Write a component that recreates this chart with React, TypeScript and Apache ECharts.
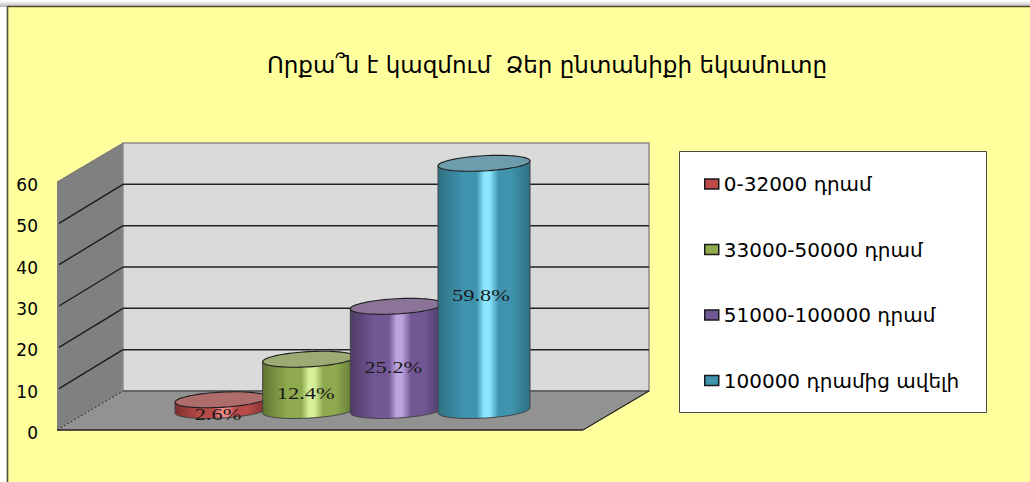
import React, { useEffect, useRef } from "react";
import * as echarts from "echarts";

const titleText = "Որքա՞ն է կազմում  Ձեր ընտանիքի եկամուտը";
const categories = ["0-32000 դրամ", "33000-50000 դրամ", "51000-100000 դրամ", "100000 դրամից ավելի"];
const values = [2.6, 12.4, 25.2, 59.8];
const valueLabels = ["2.6%", "12.4%", "25.2%", "59.8%"];
const yTicks = [0, 10, 20, 30, 40, 50, 60];

const baseColors = ["#b84b48", "#8ea94e", "#725795", "#3f93ad"];
const edgeColors = ["#7a2e2c", "#5f7534", "#4e3b66", "#2f6f82"];
const lightColors = ["#f08a87", "#d6f09a", "#bba4e0", "#8be6ff"];
const topColors = ["#ae6d6b", "#9cab74", "#8c7498", "#6d9dac"];

const XMIN = -1.5;
const XMAX = 4.5;
const DX = 66;
const DY = -39;
const RX = 46;
const RY = 7.6;
const SLOPE = 0.054;
const FONT = "'DejaVu Sans', sans-serif";

function ellipsePoint(cx: number, cy: number, t: number) {
  return [cx + RX * Math.cos(t), cy + RY * Math.sin(t) - SLOPE * RX * Math.cos(t)];
}

function renderWalls(_p: any, api: any) {
  const fb = api.coord([XMIN, 0]);
  const ft = api.coord([XMIN, 60]);
  const fr = api.coord([XMAX, 0]);
  const bb = [fb[0] + DX, fb[1] + DY];
  const bt = [ft[0] + DX, ft[1] + DY];
  const br = [fr[0] + DX, fr[1] + DY];
  const children: any[] = [
    { type: "polygon", shape: { points: [ft, bt, bb, fb] }, style: { fill: "#808080" } },
    {
      type: "polygon",
      shape: { points: [bt, [br[0], bt[1]], br, bb] },
      style: { fill: "#dadada", stroke: "#8c8c8c", lineWidth: 1.5 },
    },
    { type: "polygon", shape: { points: [fb, bb, br, fr] }, style: { fill: "#929292" } },
    { type: "line", shape: { x1: fb[0], y1: fb[1], x2: fr[0], y2: fr[1] }, style: { stroke: "#222", lineWidth: 1.5 } },
    { type: "line", shape: { x1: bb[0], y1: bb[1], x2: br[0], y2: br[1] }, style: { stroke: "#333", lineWidth: 1.2 } },
    { type: "line", shape: { x1: fr[0], y1: fr[1], x2: br[0], y2: br[1] }, style: { stroke: "#222", lineWidth: 1.2 } },
    {
      type: "line",
      shape: { x1: fb[0], y1: fb[1], x2: bb[0], y2: bb[1] },
      style: { stroke: "#222", lineWidth: 1, lineDash: [2, 2] },
    },
    { type: "line", shape: { x1: ft[0], y1: ft[1], x2: bt[0], y2: bt[1] }, style: { stroke: "#777", lineWidth: 1 } },
  ];
  yTicks.slice(1, -1).forEach((v) => {
    const f = api.coord([XMIN, v]);
    const b = [f[0] + DX, f[1] + DY];
    children.push({
      type: "line",
      shape: { x1: f[0] + 2, y1: f[1], x2: b[0], y2: b[1] },
      style: { stroke: "#1a1a1a", lineWidth: 1.3 },
    });
    children.push({
      type: "line",
      shape: { x1: b[0], y1: b[1], x2: br[0], y2: b[1] },
      style: { stroke: "#222", lineWidth: 1.5 },
    });
  });
  return { type: "group", children };
}

function renderCylinder(idx: number) {
  return (_p: any, api: any) => {
    const top = api.coord([api.value(0), api.value(1)]);
    const bot = api.coord([api.value(0), 0]);
    const cx = top[0] + DX / 2 - 0.5;
    const yTop = top[1] + DY / 2;
    const yBot = bot[1] + DY / 2;
    const bodyPts: number[][] = [];
    const N = 40;
    for (let i = 0; i <= N; i++) bodyPts.push(ellipsePoint(cx, yBot, (Math.PI * i) / N));
    bodyPts.push(ellipsePoint(cx, yTop, Math.PI));
    bodyPts.push(ellipsePoint(cx, yTop, 0));
    const topPts: number[][] = [];
    for (let i = 0; i < 72; i++) topPts.push(ellipsePoint(cx, yTop, (2 * Math.PI * i) / 72));
    const fill = new echarts.graphic.LinearGradient(0, 0, 1, 0, [
      { offset: 0, color: edgeColors[idx] },
      { offset: 0.26, color: baseColors[idx] },
      { offset: 0.42, color: baseColors[idx] },
      { offset: 0.5, color: lightColors[idx] },
      { offset: 0.56, color: lightColors[idx] },
      { offset: 0.66, color: baseColors[idx] },
      { offset: 0.8, color: baseColors[idx] },
      { offset: 1, color: edgeColors[idx] },
    ]);
    return {
      type: "group",
      children: [
        { type: "polygon", shape: { points: bodyPts }, style: { fill, stroke: "#444", lineWidth: 1 } },
        { type: "polygon", shape: { points: topPts }, style: { fill: topColors[idx], stroke: "#1f1f1f", lineWidth: 1.1 } },
        {
          type: "text",
          x: cx - 3,
          y: (yTop + yBot) / 2 + 8.5,
          scaleX: 1.32,
          style: {
            text: valueLabels[idx],
            font: "17px 'Liberation Serif', serif",
            fill: "#1a1a1a",
            align: "center",
            verticalAlign: "middle",
          },
        },
      ],
    };
  };
}

export default function App() {
  const ref = useRef<HTMLDivElement>(null);
  useEffect(() => {
    if (!ref.current) return;
    const chart = echarts.init(ref.current, null, { renderer: "svg" });
    chart.setOption({
      animation: false,
      backgroundColor: "#ffffff",
      title: {
        text: titleText,
        left: 542,
        top: 48,
        textAlign: "center",
        textStyle: { fontFamily: FONT, fontSize: 23, fontWeight: "normal", color: "#000" },
      },
      grid: { left: 57, top: 182, width: 526, height: 248 },
      xAxis: { type: "value", min: XMIN, max: XMAX, show: false },
      yAxis: {
        type: "value",
        min: 0,
        max: 60,
        interval: 10,
        axisLine: { show: false },
        axisTick: { show: false },
        splitLine: { show: false },
        axisLabel: { margin: 19, fontFamily: FONT, fontSize: 17, color: "#000", verticalAlign: "top", lineHeight: 6 },
      },
      legend: {
        left: 704,
        top: 174,
        padding: 0,
        orient: "vertical",
        itemWidth: 14,
        itemHeight: 10,
        itemGap: 45.5,
        selectedMode: false,
        textStyle: { fontFamily: FONT, fontSize: 20, color: "#000" },
        data: categories.map((name, i) => ({
          name,
          icon: "rect",
          itemStyle: { color: baseColors[i], borderColor: "#1a1a1a", borderWidth: 1.5 },
        })),
      },
      graphic: [
        {
          type: "rect",
          z: -1,
          shape: { x: 0, y: 1, width: 1030, height: 6 },
          style: {
            fill: new echarts.graphic.LinearGradient(0, 0, 0, 1, [
              { offset: 0, color: "#ffffff" },
              { offset: 1, color: "#b4b4b4" },
            ]),
          },
        },
        {
          type: "rect",
          z: -1,
          shape: { x: 7.5, y: 6.5, width: 1040, height: 490 },
          style: { fill: "#ffff9e", stroke: "#4f4f30", lineWidth: 1.6 },
        },
        {
          type: "rect",
          z: 0,
          shape: { x: 679.5, y: 151.5, width: 307, height: 261 },
          style: { fill: "#ffffff", stroke: "#4a4a4a", lineWidth: 1 },
        },
      ],
      series: [
        {
          type: "custom",
          name: "walls",
          coordinateSystem: "cartesian2d",
          silent: true,
          clip: false,
          renderItem: renderWalls,
          data: [[0, 0]],
        },
        ...categories.map((name, i) => ({
          type: "custom",
          name,
          coordinateSystem: "cartesian2d",
          clip: false,
          itemStyle: { color: baseColors[i] },
          renderItem: renderCylinder(i),
          encode: { x: 0, y: 1 },
          data: [[i, values[i]]],
        })),
      ],
    });
    return () => chart.dispose();
  }, []);
  return <div ref={ref} style={{ position: "fixed", left: 0, top: 0, width: 1030, height: 482 }} />;
}
